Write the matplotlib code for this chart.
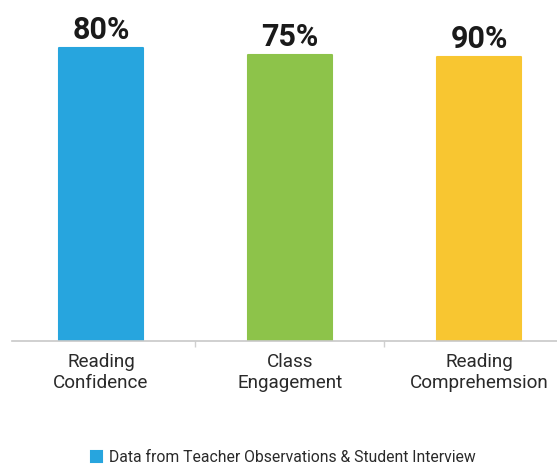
import matplotlib.pyplot as plt

plt.rcParams['font.family'] = ['Roboto', 'DejaVu Sans']

categories = ["Reading\nConfidence", "Class\nEngagement", "Reading\nComprehemsion"]
bar_heights = [91.6, 89.4, 88.7]
value_labels = ["80%", "75%", "90%"]
colors = ["#27A5DE", "#8DC34A", "#F8C631"]
legend_label = "Data from Teacher Observations & Student Interview"

fig = plt.figure(figsize=(5.57, 4.65), dpi=100)
ax = fig.add_axes([12 / 557, 1 - 341 / 465, 545 / 557, 320 / 465])

x = range(len(categories))
bars = ax.bar(x, bar_heights, width=0.445, color=colors, edgecolor=colors,
              linewidth=1.5, joinstyle='round', label=legend_label)

for b, lab in zip(bars, value_labels):
    ax.annotate(lab, (b.get_x() + b.get_width() / 2, b.get_height()),
                xytext=(0, 2), textcoords='offset points',
                ha='center', va='bottom', fontsize=22, fontweight='bold',
                color='#1a1a1a')

ax.set_xlim(-0.471, 2.413)
ax.set_ylim(0, 100)
for s in ['top', 'right', 'left']:
    ax.spines[s].set_visible(False)
ax.spines['bottom'].set_color('#c8c8c8')
ax.spines['bottom'].set_linewidth(1.2)
ax.set_yticks([])
ax.set_xticks([0.5, 1.5])
ax.set_xticklabels([])
ax.tick_params(axis='x', length=4, color='#d0d0d0', width=1)

for i, c in enumerate(categories):
    ax.annotate(c, (i, 0), xytext=(0, -8.5), textcoords='offset points',
                ha='center', va='top', fontsize=13.6, color='#2a2a2a',
                linespacing=1.22)

fig.legend(handles=[bars[0]], labels=[legend_label], loc='center',
           bbox_to_anchor=(283 / 557, 7.5 / 465), frameon=False, fontsize=11.3,
           handlelength=0.75, handleheight=0.75, handletextpad=0.4,
           labelcolor='#2a2a2a')

fig.savefig("out.png", dpi=100)
